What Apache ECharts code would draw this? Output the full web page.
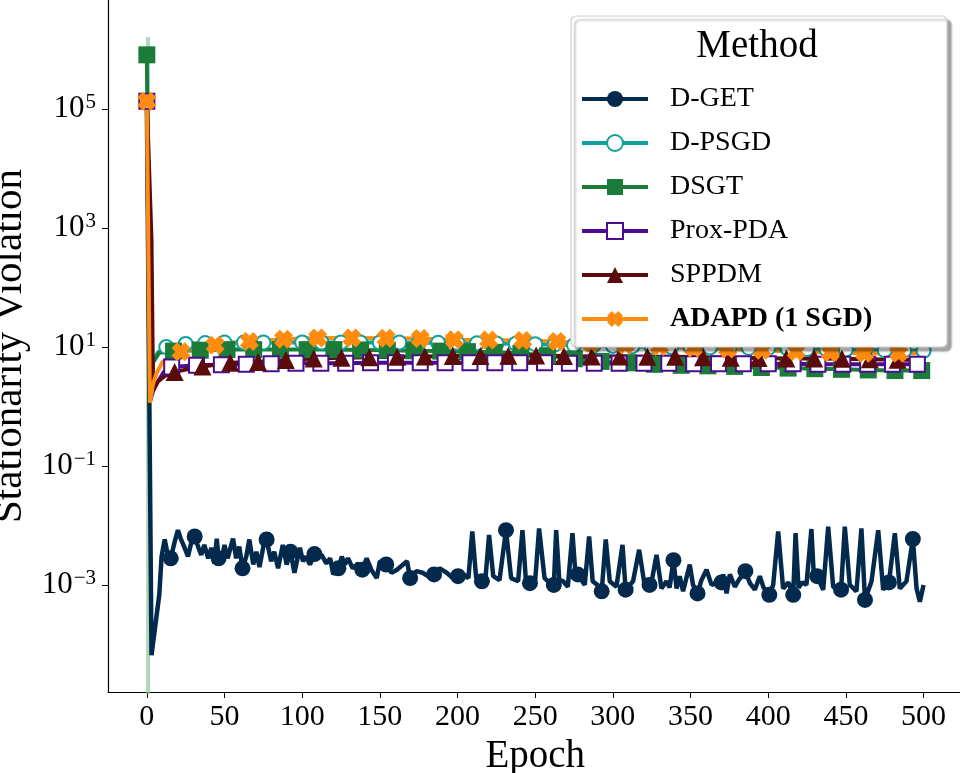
<!DOCTYPE html>
<html>
<head>
<meta charset="utf-8">
<script src="https://cdn.jsdelivr.net/npm/echarts@6/dist/echarts.min.js"></script>
<style>
html, body { margin: 0; padding: 0; background: #fff; }
#main { width: 960px; height: 773px; }
</style>
</head>
<body>
<div id="main"></div>
<script>
var methods = ['D-GET', 'D-PSGD', 'DSGT', 'Prox-PDA', 'SPPDM', 'ADAPD (1 SGD)'];
var xTicks = [0, 50, 100, 150, 200, 250, 300, 350, 400, 450, 500];
var yTicks = [1e-3, 1e-1, 1e1, 1e3, 1e5];

// [epoch, stationarity violation]
var dget = [
    [0, 1.35e5], [3, 6.6e-5], [8, 6.8e-4], [9.5, 3.0e-3], [11.5, 5.8e-3], [13.5, 3.2e-3],
    [15.4, 2.8e-3], [18, 5.4e-3], [20, 8.3e-3], [22, 5.8e-3], [24, 4.4e-3], [26.5, 3.0e-3],
    [28.5, 5.0e-3], [30.8, 6.5e-3], [33, 4.4e-3], [35, 3.2e-3], [37, 4.7e-3], [39.5, 2.8e-3],
    [41.5, 4.2e-3], [43.5, 2.3e-3], [45, 6.0e-3], [46.2, 2.8e-3], [48, 2.5e-3], [50, 4.7e-3],
    [52, 2.8e-3], [55.5, 6.0e-3], [57.5, 2.8e-3], [59.5, 4.4e-3], [61.6, 1.9e-3], [64, 3.0e-3],
    [66, 5.8e-3], [68.5, 2.2e-3], [70.5, 3.6e-3], [72.5, 2.0e-3], [75, 4.4e-3], [77.1, 5.8e-3],
    [80, 2.5e-3], [82, 3.6e-3], [84.5, 1.9e-3], [87.5, 4.7e-3], [90, 2.2e-3], [92.5, 3.6e-3],
    [95, 1.6e-3], [98.5, 4.2e-3], [100.5, 2.5e-3], [102.5, 3.0e-3], [105, 2.2e-3], [107.9, 3.3e-3],
    [110, 2.8e-3], [112.5, 3.2e-3], [115.5, 2.3e-3], [118, 2.8e-3], [120, 1.5e-3], [123.3, 1.9e-3],
    [125.5, 3.0e-3], [127.5, 2.2e-3], [129.5, 2.8e-3], [132.5, 1.9e-3], [136, 2.3e-3], [138.7, 1.8e-3],
    [141.5, 2.8e-3], [144.5, 1.8e-3], [148, 1.3e-3], [150, 2.5e-3], [154.1, 2.2e-3], [157.5, 1.6e-3],
    [161, 1.8e-3], [165, 2.2e-3], [167.5, 2.5e-3], [169.5, 1.3e-3], [173.5, 1.7e-3], [177.5, 1.6e-3],
    [181, 1.4e-3], [184.9, 1.5e-3], [188.5, 1.9e-3], [193, 1.6e-3], [197, 1.3e-3], [200.3, 1.4e-3],
    [204, 1.5e-3], [207, 1.3e-3], [209.5, 7.9e-3], [212, 1.3e-3], [215.7, 1.15e-3], [218, 1.3e-3],
    [220.3, 6.9e-3], [223, 1.4e-3], [227, 1.2e-3], [231.2, 8.3e-3], [234.5, 1.3e-3], [239, 1.15e-3],
    [241.8, 8.3e-3], [244, 1.2e-3], [246.6, 1.07e-3], [250, 1.2e-3], [252.5, 8.9e-3], [256, 1.3e-3],
    [259, 1.1e-3], [262, 1.0e-3], [263.5, 8.3e-3], [265.5, 1.2e-3], [268, 1.15e-3], [271, 9.3e-4],
    [274, 7.4e-3], [276, 1.4e-3], [277.4, 1.5e-3], [281.9, 1.0e-3], [284.7, 6.5e-3], [287, 1.15e-3],
    [290, 1.0e-3], [292.8, 7.8e-4], [295.4, 5.8e-3], [298, 1.15e-3], [302.3, 9.3e-4], [306.2, 4.7e-3],
    [308.2, 8.3e-4], [313, 1.15e-3], [316.9, 3.9e-3], [320.6, 9.3e-4], [323.6, 1.0e-3], [325, 1.15e-3],
    [328.1, 3.2e-3], [331.3, 8.7e-4], [334.5, 1.15e-3], [336.5, 9.0e-4], [339, 2.6e-3], [341, 8.7e-4],
    [343, 1.4e-3], [345.2, 7.8e-4], [349.5, 2.2e-3], [351.6, 1.0e-3], [354.5, 7.2e-4], [357, 1.2e-3],
    [360.3, 1.8e-3], [363.5, 1.0e-3], [367.8, 1.15e-3], [369.9, 1.1e-3], [371, 1.5e-3], [373.2, 7.2e-4],
    [375.3, 1.5e-3], [378.5, 9.3e-4], [381, 1.2e-3], [385.3, 1.7e-3], [388.2, 1.07e-3], [391.4, 8.3e-4],
    [394.6, 1.4e-3], [397, 9.0e-4], [400.7, 6.8e-4], [403.2, 1.0e-3], [406.4, 7.9e-3], [409.6, 8.7e-4],
    [413, 1.1e-3], [416.1, 6.8e-4], [417.6, 7.4e-3], [419.5, 9.0e-4], [422, 1.1e-3], [424.6, 1.0e-3],
    [427.8, 8.7e-3], [429.5, 1.2e-3], [431.5, 1.4e-3], [435.4, 8.3e-4], [438.6, 9.5e-3], [441.8, 9.3e-4],
    [446.9, 8.3e-4], [449.3, 9.5e-3], [452.5, 1.0e-3], [456.8, 7.8e-4], [460, 8.9e-3], [462.3, 5.6e-4],
    [466.5, 1.15e-3], [470.8, 8.3e-3], [474, 8.3e-4], [477.7, 1.1e-3], [481.5, 7.4e-3], [484.7, 8.7e-4],
    [489, 1.15e-3], [493.1, 5.9e-3], [495.5, 8.7e-4], [497.6, 5.2e-4], [500, 1.0e-3]
];
var dgetMarks = [0, 15.4, 30.8, 46.2, 61.6, 77.1, 92.5, 107.9, 123.3, 138.7, 154.1, 169.5, 184.9,
    200.3, 215.7, 231.2, 246.6, 262, 277.4, 292.8, 308.2, 323.6, 339, 354.5, 369.9, 385.3,
    400.7, 416.1, 431.5, 446.9, 462.3, 477.7, 493.1];

var dpsgd = [
    [0, 1.35e5], [2, 1.5], [4, 5.5], [7, 8.0], [12.5, 10.0], [25, 11.2], [37.5, 11.6], [50, 11.8],
    [62.5, 11.8], [75, 11.9], [87.5, 11.9], [100, 11.9], [112.5, 11.9], [125, 11.9], [137.5, 11.8],
    [150, 11.8], [162.5, 11.8], [175, 11.7], [187.5, 11.7], [200, 11.6], [212.5, 11.5], [225, 11.4],
    [237.5, 11.3], [250, 11.1], [262.5, 10.9], [275, 10.7], [287.5, 10.5], [300, 10.4], [312.5, 10.2],
    [325, 10.1], [337.5, 10.0], [350, 9.9], [362.5, 9.8], [375, 9.7], [387.5, 9.6], [400, 9.5],
    [412.5, 9.4], [425, 9.2], [437.5, 9.1], [450, 9.0], [462.5, 8.9], [475, 8.8], [487.5, 8.7], [500, 8.6]
];
var dpsgdMarks = [0, 12.5, 25, 37.5, 50, 62.5, 75, 87.5, 100, 112.5, 125, 137.5, 150, 162.5, 175,
    187.5, 200, 212.5, 225, 237.5, 250, 262.5, 275, 287.5, 300, 312.5, 325, 337.5, 350, 362.5,
    375, 387.5, 400, 412.5, 425, 437.5, 450, 462.5, 475, 487.5, 500];

var dsgt = [
    [0, 8.1e5], [2, 1.5], [4, 5.5], [8, 8.0], [17.2, 8.5], [34.4, 8.8], [51.6, 9.0], [68.8, 9.0],
    [86, 9.0], [103.2, 9.0], [120.4, 9.0], [137.6, 8.9], [154.8, 8.8], [172, 8.6], [189.2, 8.5],
    [206.4, 8.3], [223.6, 8.1], [240.8, 7.8], [258, 7.1], [275.2, 6.3], [292.4, 5.7], [309.6, 5.4],
    [326.8, 5.1], [344, 4.9], [361.2, 4.8], [378.4, 4.7], [395.6, 4.5], [412.8, 4.4], [430, 4.3],
    [447.2, 4.2], [464.4, 4.1], [481.6, 4.0], [498.8, 4.0]
];
var dsgtMarks = [0, 17.2, 34.4, 51.6, 68.8, 86, 103.2, 120.4, 137.6, 154.8, 172, 189.2, 206.4,
    223.6, 240.8, 258, 275.2, 292.4, 309.6, 326.8, 344, 361.2, 378.4, 395.6, 412.8, 430, 447.2,
    464.4, 481.6, 498.8];
// spread of the DSGT runs at the first epoch
var dsgtBand = [[0.8, 1.6e6], [0.8, 1e-6]];

var proxpda = [
    [0, 1.35e5], [2, 1.2], [4, 1.8], [7, 2.6], [11, 3.8], [16, 4.6], [32, 4.9], [48, 5.0], [64, 5.1],
    [80, 5.2], [96, 5.3], [112, 5.3], [128, 5.3], [144, 5.4], [160, 5.4], [176, 5.4], [192, 5.4],
    [208, 5.4], [224, 5.4], [240, 5.4], [256, 5.4], [272, 5.3], [288, 5.3], [304, 5.3], [320, 5.3],
    [336, 5.3], [352, 5.2], [368, 5.2], [384, 5.2], [400, 5.2], [416, 5.2], [432, 5.1], [448, 5.1],
    [464, 5.1], [480, 5.1], [496, 5.1], [500, 5.1]
];
var proxpdaMarks = [0, 16, 32, 48, 64, 80, 96, 112, 128, 144, 160, 176, 192, 208, 224, 240, 256,
    272, 288, 304, 320, 336, 352, 368, 384, 400, 416, 432, 448, 464, 480, 496];

var sppdm = [
    [0, 1.35e5], [3, 630], [4, 1.9], [7, 2.6], [12, 3.3], [17.9, 3.8], [35.8, 4.7], [53.7, 5.4],
    [71.6, 5.6], [89.5, 6.0], [107.4, 6.4], [125.3, 6.6], [143.2, 6.7], [161.1, 6.8], [179, 6.9],
    [196.9, 7.0], [214.8, 7.0], [232.7, 7.1], [250.6, 7.2], [268.5, 7.0], [286.4, 6.9], [304.3, 6.9],
    [322.2, 6.8], [340.1, 6.8], [358, 6.7], [375.9, 6.6], [393.8, 6.5], [411.7, 6.4], [429.6, 6.4],
    [447.5, 6.3], [465.4, 6.2], [483.3, 6.1], [500, 6.1]
];
var sppdmMarks = [17.9, 35.8, 53.7, 71.6, 89.5, 107.4, 125.3, 143.2, 161.1, 179, 196.9, 214.8,
    232.7, 250.6, 268.5, 286.4, 304.3, 322.2, 340.1, 358, 375.9, 393.8, 411.7, 429.6, 447.5,
    465.4, 483.3];

var adapd = [
    [0, 1.35e5], [2, 1.15], [4, 2.4], [6, 3.5], [10, 5.5], [15, 7.0], [22, 8.3], [32, 9.6], [44, 10.7],
    [55, 11.6], [66, 12.3], [88, 13.5], [110, 14.1], [132, 14.1], [154, 14.0], [176, 13.8],
    [198, 13.2], [220, 13.0], [242, 12.8], [264, 12.3], [286, 11.5], [308, 10.8], [330, 10.2],
    [352, 9.6], [374, 9.2], [396, 8.8], [418, 8.4], [440, 8.0], [462, 7.8], [484, 7.8], [500, 7.8]
];
var adapdMarks = [0, 22, 44, 66, 88, 110, 132, 154, 176, 198, 220, 242, 264, 286, 308, 330, 352,
    374, 396, 418, 440, 462, 484];

var FONT = '"Liberation Serif", "DejaVu Serif", serif';
var xShape = 'path://M3,0L5,2L7,0L10,3L8,5L10,7L7,10L5,8L3,10L0,7L2,5L0,3Z';

function sizer(marks, size) {
    return function (v) {
        return marks.indexOf(v[0]) >= 0 ? size : 0;
    };
}

function makeLine(name, data, marks, color, symbol, size, hollow, width) {
    return {
        name: name,
        type: 'line',
        data: data,
        symbol: symbol,
        symbolSize: sizer(marks, size),
        showAllSymbol: true,
        lineStyle: { color: color, width: width || 4 },
        itemStyle: hollow ? { color: color, borderColor: color, borderWidth: 1.8 } : { color: color },
        emphasis: { disabled: true },
        animation: false
    };
}

var myChart = echarts.init(document.getElementById('main'));

var option = {
    backgroundColor: '#fff',
    textStyle: { fontFamily: FONT },
    grid: { left: 108, top: 0, width: 854.4, height: 692, outerBoundsMode: 'none', containLabel: false },
    xAxis: {
        type: 'value',
        min: -25,
        max: 525,
        name: 'Epoch',
        nameLocation: 'middle',
        nameGap: 37,
        nameTextStyle: { fontFamily: FONT, fontSize: 39, color: '#000' },
        axisLine: { onZero: false, lineStyle: { color: '#000', width: 1.2 } },
        axisTick: { show: true, length: 6, customValues: xTicks, lineStyle: { color: '#000' } },
        axisLabel: { customValues: xTicks, fontFamily: FONT, fontSize: 30, color: '#000', margin: 10 },
        splitLine: { show: false }
    },
    yAxis: {
        type: 'log',
        logBase: 10,
        min: Math.pow(10, -4.8),
        max: Math.pow(10, 6.83),
        name: 'Stationarity Violation',
        nameLocation: 'middle',
        nameGap: 58,
        nameTextStyle: { fontFamily: FONT, fontSize: 41, color: '#000' },
        axisLine: { show: true, onZero: false, lineStyle: { color: '#000', width: 1.2 } },
        axisTick: { show: true, length: 6, customValues: yTicks, lineStyle: { color: '#000' } },
        axisLabel: {
            customValues: yTicks,
            fontFamily: FONT,
            fontSize: 31,
            color: '#000',
            margin: 12,
            formatter: function (v) {
                var e = Math.round(Math.log(v) / Math.LN10);
                return '10{sup|' + String(e).replace('-', '\u2212') + '}';
            },
            rich: {
                sup: { fontFamily: FONT, fontSize: 21, color: '#000', verticalAlign: 'top', padding: [0, 0, 12, 1] }
            }
        },
        splitLine: { show: false },
        minorTick: { show: false }
    },
    legend: {
        data: methods,
        orient: 'vertical',
        left: 580,
        top: 84,
        padding: 0,
        itemWidth: 66,
        itemHeight: 20,
        itemGap: 14,
        z: 60,
        lineStyle: { width: 4 },
        textStyle: {
            fontFamily: FONT, fontSize: 28, color: '#000', lineHeight: 30, padding: [0, 0, 0, 17],
            rich: { b: { fontFamily: FONT, fontSize: 28, fontWeight: 'bold', color: '#000', lineHeight: 30 } }
        },
        formatter: function (name) {
            return name === 'ADAPD (1 SGD)' ? '{b|' + name + '}' : name;
        }
    },
    graphic: [{
        type: 'rect',
        z: 50,
        shape: { x: 571, y: 16, width: 376, height: 331, r: 5 },
        style: {
            fill: '#fff', stroke: '#cfcfcf', lineWidth: 1.2,
            shadowColor: 'rgba(0,0,0,0.35)', shadowOffsetX: 4, shadowOffsetY: 4, shadowBlur: 2
        }
    }, {
        type: 'text',
        z: 55,
        x: 757,
        y: 47,
        style: {
            text: 'Method', fontFamily: FONT, fontSize: 39, fill: '#000',
            textAlign: 'center', textVerticalAlign: 'middle'
        }
    }],
    series: [
        {
            name: 'DSGT band',
            type: 'line',
            data: dsgtBand,
            symbol: 'none',
            lineStyle: { color: '#8fc79a', width: 4, opacity: 0.7 },
            emphasis: { disabled: true },
            silent: true,
            animation: false
        },
        makeLine('D-GET', dget, dgetMarks, '#032a4c', 'circle', 16, false, 4.5),
        makeLine('D-PSGD', dpsgd, dpsgdMarks, '#10a19d', 'emptyCircle', 14, true),
        makeLine('DSGT', dsgt, dsgtMarks, '#1b7c3a', 'rect', 17, false),
        makeLine('Prox-PDA', proxpda, proxpdaMarks, '#4b0c91', 'emptyRect', 15, true),
        makeLine('SPPDM', sppdm, sppdmMarks, '#5b0b0b', 'triangle', 18, false),
        makeLine('ADAPD (1 SGD)', adapd, adapdMarks, '#ff8b0f', xShape, 19, false)
    ]
};

myChart.setOption(option);

window.addEventListener('resize', function () {
    myChart.resize();
});
</script>
</body>
</html>
